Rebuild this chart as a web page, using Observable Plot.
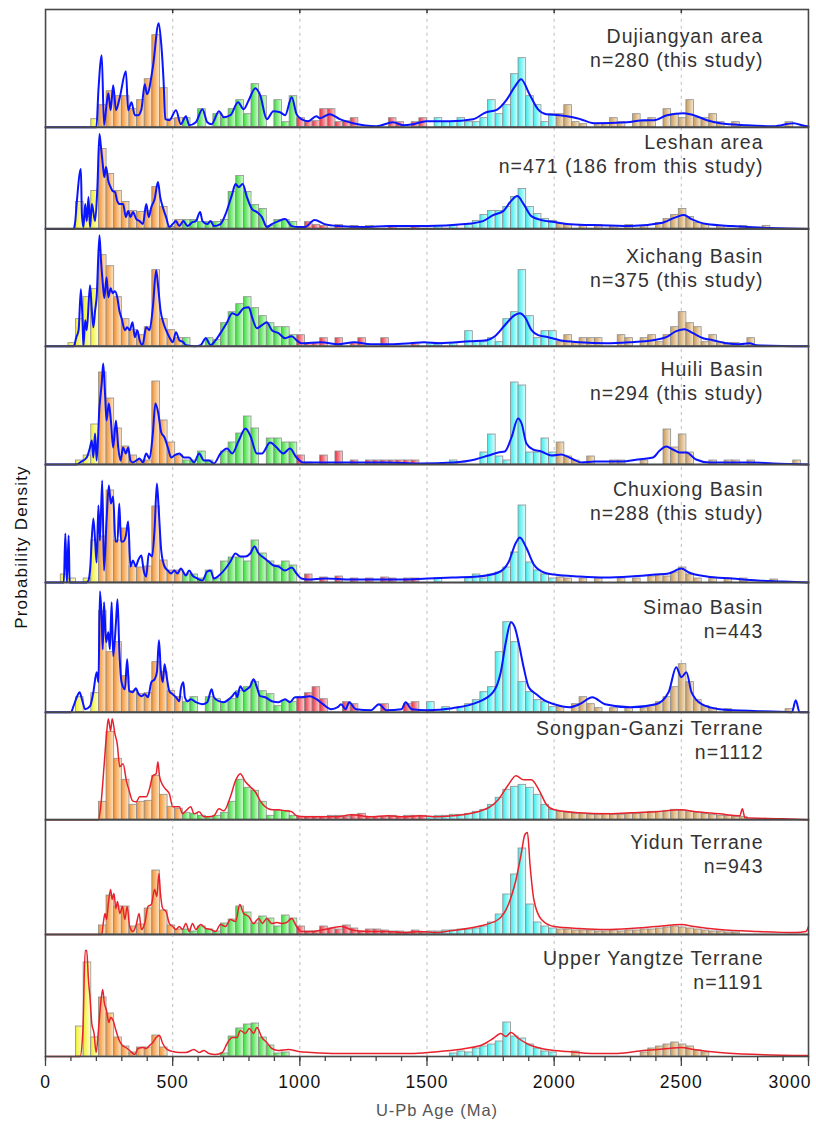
<!DOCTYPE html>
<html><head><meta charset="utf-8">
<script src="https://cdn.jsdelivr.net/npm/d3@7"></script>
<script src="https://cdn.jsdelivr.net/npm/@observablehq/plot@0.6"></script>
<style>
body{margin:0;background:#fff;font-family:"Liberation Sans",Arial,sans-serif;}
#wrap{position:relative;width:816px;height:1123px;overflow:hidden;}
.panel{position:absolute;left:0;}
#ylab{position:absolute;left:22px;top:547px;transform:translate(-50%,-50%) rotate(-90deg);font-size:17px;white-space:nowrap;color:#111;letter-spacing:1.2px;}
#xlab{position:absolute;left:437px;top:1110px;transform:translate(-50%,-50%);font-size:16.5px;color:#555;white-space:nowrap;letter-spacing:1px;}
</style></head><body>
<svg width="0" height="0" style="position:absolute">
<defs>
<linearGradient id="g-yellow" x1="0" x2="1" y1="0" y2="0"><stop offset="0" stop-color="#eeee30"/><stop offset="1" stop-color="#ffffd0"/></linearGradient>
<linearGradient id="g-orange" x1="0" x2="1" y1="0" y2="0"><stop offset="0" stop-color="#f29232"/><stop offset="1" stop-color="#fde6c8"/></linearGradient>
<linearGradient id="g-green" x1="0" x2="1" y1="0" y2="0"><stop offset="0" stop-color="#3ed83e"/><stop offset="1" stop-color="#d2ffd2"/></linearGradient>
<linearGradient id="g-red" x1="0" x2="1" y1="0" y2="0"><stop offset="0" stop-color="#e4303e"/><stop offset="1" stop-color="#fcd2d6"/></linearGradient>
<linearGradient id="g-cyan" x1="0" x2="1" y1="0" y2="0"><stop offset="0" stop-color="#3eeaea"/><stop offset="1" stop-color="#dcffff"/></linearGradient>
<linearGradient id="g-tan" x1="0" x2="1" y1="0" y2="0"><stop offset="0" stop-color="#c89a5c"/><stop offset="1" stop-color="#f6e8cf"/></linearGradient>
</defs></svg>
<div id="wrap"><div id="ylab">Probability Density</div><div id="xlab">U-Pb Age (Ma)</div></div>
<script>
// ---------- data ----------
const names = ["Dujiangyan area","Leshan area","Xichang Basin","Huili Basin","Chuxiong Basin","Simao Basin","Songpan-Ganzi Terrane","Yidun Terrane","Upper Yangtze Terrane"];
const counts = ["n=280 (this study)","n=471 (186 from this study)","n=375 (this study)","n=294 (this study)","n=288 (this study)","n=443","n=1112","n=943","n=1191"];
const binWidth = 30; // Ma
const majorTicks = [0,500,1000,1500,2000,2500,3000];
const minorTicks = d3.range(0, 3001, 100);
const gridAges = [500,1000,1500,2000,2500];

// histogram heights per 30-Ma bin (0-3000 Ma), relative units
const hDujiangyan = [0,0,0,0,0,0,8,22,36,31, 31,18,27,48,92,39,8,9,9,0, 18,0,13,9,18,27,13,43,31,0, 27,5,31,9,6,6,18,18,5,6, 9,0,0,0,0,9,5,0,5,9, 0,9,5,5,9,5,5,9,27,13, 22,53,69,31,22,5,13,13,22,5, 3,0,3,3,9,5,0,13,5,9, 0,18,13,9,27,9,9,13,5,0, 5,0,0,0,0,0,0,5,0,0];
const hLeshan = [0,0,0,0,27,12,38,80,55,38, 27,18,17,18,42,22,2,9,9,9, 7,7,7,9,37,53,37,24,20,3, 9,9,7,2,7,4,3,0,4,0, 3,0,3,0,0,3,0,0,3,0, 0,3,0,3,0,4,8,14,18,18, 22,32,40,22,15,10,8,5,4,0, 3,0,4,0,3,0,4,0,3,0, 6,10,14,20,12,6,4,0,3,0, 0,3,0,0,3,0,0,0,0,0];
const hXichang = [0,0,0,3,27,49,57,91,80,49, 27,16,11,19,76,27,16,8,8,0, 0,8,6,23,34,42,49,38,30,23, 19,19,11,11,3,3,8,0,8,0, 3,8,0,0,8,0,0,0,3,0, 3,3,0,3,0,15,4,4,8,4, 27,34,76,30,8,15,15,4,11,4, 8,8,8,0,0,11,8,0,8,11, 4,11,19,34,23,19,4,11,4,3, 3,0,8,0,0,0,0,0,0,0];
const hHuili = [0,0,0,0,4,9,40,92,66,36, 18,9,4,4,83,44,22,9,4,4, 13,4,0,13,22,31,48,36,0,26, 26,22,22,9,2,0,9,0,13,0, 4,0,4,4,4,4,4,4,4,0, 0,0,0,4,0,0,0,12,30,8, 4,82,79,12,12,26,12,22,8,4, 0,8,0,0,4,4,0,0,4,0, 0,35,17,30,12,0,0,4,0,4, 4,0,4,0,0,0,0,0,4,0];
const hChuxiong = [0,0,8,4,0,4,42,46,92,42, 54,16,15,16,76,22,12,12,8,8, 4,12,4,21,25,25,21,42,29,21, 17,21,17,0,8,0,5,0,6,0, 4,0,4,0,5,4,0,4,4,0, 0,4,0,0,0,4,8,4,8,10, 15,30,77,20,12,8,4,5,4,0, 4,0,4,0,0,4,0,4,0,6, 8,6,10,15,8,4,0,4,0,4, 0,4,0,0,0,3,0,0,0,0];
const hSimao = [0,0,0,0,15,0,19,101,60,70, 36,21,18,19,50,40,21,15,10,15, 0,15,13,10,13,21,25,30,21,18, 6,11,10,15,19,25,13,0,0,10, 8,0,0,0,8,0,0,8,10,0, 10,0,5,0,5,8,12,20,25,60, 90,70,30,20,12,10,5,5,0,8, 15,8,4,0,4,0,4,0,4,6, 10,15,25,48,30,12,6,4,0,3, 0,0,0,0,0,0,0,3,0,0];
const hSongpan = [0,0,0,0,0,0,0,18,88,61, 40,15,18,19,44,25,13,11,7,6, 4,3,4,7,18,40,32,29,18,4, 9,9,4,3,3,3,3,4,4,3, 5,6,3,3,3,4,3,4,4,4, 3,4,4,5,5,6,8,10,15,22, 30,33,35,32,25,15,10,8,7,6, 6,5,5,6,5,5,6,6,7,8, 8,9,10,9,8,7,6,5,4,4, 3,3,0,0,0,0,0,0,0,0];
const hYidun = [0,0,0,0,0,0,0,9,39,28, 28,8,10,26,64,24,9,5,5,3, 8,5,3,11,15,28,22,11,18,16, 8,19,16,8,3,3,8,6,5,9, 6,3,5,5,4,3,3,2,4,2, 3,3,4,4,5,5,6,8,12,20, 40,60,86,30,12,8,6,5,5,4, 4,4,3,3,4,3,4,4,5,5, 6,7,8,7,6,5,4,3,3,2, 2,0,0,0,0,0,0,0,0,0];
const hUpperYangtze = [0,0,0,0,30,94,19,59,43,19, 10,4,9,9,21,9,0,0,0,0, 0,0,0,3,20,28,32,33,19,11, 3,4,0,0,0,0,0,0,0,0, 0,0,0,0,0,0,0,0,0,0, 0,0,0,3,5,4,8,10,12,15, 34,20,18,12,8,5,4,0,0,5, 0,0,0,0,0,0,0,0,4,8, 10,12,14,12,10,6,4,0,0,0, 0,0,0,0,0,0,0,0,0,0];

// probability density curves: [age (Ma), density (relative)]
const dDujiangyan = [[0,0],[200,0],[208,37],[221,72],[230,2],[240,23],[247,34],[256,17],[266,42],[277,17],[292,30],[316,56],[325,17],[338,25],[351,12],[364,12],[377,18],[390,43],[399,33],[422,60],[445,104],[455,83],[464,47],[471,8],[487,7],[513,17],[532,3],[552,11],[565,2],[591,5],[617,18],[636,5],[653,3],[682,16],[701,10],[727,12],[757,25],[779,18],[799,27],[825,39],[844,32],[870,8],[896,16],[922,15],[942,12],[968,30],[987,13],[1006,8],[1032,6],[1065,11],[1079,9],[1118,13],[1157,8],[1209,4],[1301,1],[1366,5],[1406,2],[1445,3],[1497,6],[1589,6],[1681,8],[1733,15],[1772,17],[1812,27],[1844,40],[1870,48],[1903,33],[1936,18],[1969,13],[2021,12],[2073,10],[2104,8],[2156,4],[2287,5],[2353,7],[2392,7],[2444,12],[2510,14],[2549,12],[2601,7],[2653,4],[2758,2],[2863,1],[2941,4],[2994,1],[3000,1]];
const dLeshan = [[0,0],[110,0],[117,8],[123,27],[139,60],[143,15],[149,2],[156,25],[162,8],[169,32],[175,2],[182,25],[195,8],[204,42],[212,95],[218,82],[225,65],[231,52],[238,62],[247,48],[256,42],[264,38],[273,37],[282,28],[292,25],[305,25],[316,12],[325,18],[334,12],[344,17],[357,10],[370,8],[383,5],[396,25],[406,12],[416,22],[429,30],[442,47],[451,32],[461,22],[474,12],[487,2],[500,5],[513,8],[526,3],[542,8],[558,3],[578,7],[591,8],[608,17],[617,8],[636,5],[649,8],[662,3],[688,5],[708,15],[734,35],[747,45],[760,42],[775,45],[792,32],[812,20],[831,17],[851,12],[870,2],[890,5],[916,8],[942,10],[968,3],[994,2],[1019,2],[1058,9],[1097,5],[1150,3],[1250,2],[1350,3],[1500,3],[1650,5],[1720,8],[1760,14],[1800,18],[1830,28],[1855,33],[1880,25],[1910,13],[1950,9],[2000,7],[2050,5],[2150,4],[2300,3],[2420,6],[2480,12],[2510,14],[2540,10],[2600,5],[2700,3],[2850,1],[3000,0]];
const dXichang = [[0,0],[111,0],[121,9],[130,16],[139,57],[145,29],[149,0],[156,26],[162,16],[175,61],[182,36],[188,19],[195,36],[201,49],[212,111],[218,86],[225,63],[231,48],[240,69],[247,49],[256,58],[264,53],[273,55],[282,49],[290,36],[299,28],[312,16],[321,19],[331,16],[342,24],[351,9],[361,16],[370,6],[381,1],[396,19],[409,16],[422,39],[435,76],[443,59],[452,36],[464,23],[474,16],[487,9],[500,4],[513,14],[526,6],[542,4],[552,1],[591,0],[610,1],[630,8],[649,1],[669,6],[695,16],[714,24],[734,33],[753,31],[779,38],[799,39],[812,29],[831,18],[851,21],[870,24],[890,16],[916,13],[942,8],[968,10],[987,6],[1006,3],[1084,4],[1149,2],[1214,4],[1279,2],[1358,2],[1436,3],[1488,4],[1551,3],[1669,5],[1734,6],[1767,10],[1806,21],[1845,31],[1865,33],[1885,29],[1911,16],[1937,11],[1976,9],[2022,6],[2101,4],[2204,3],[2296,4],[2389,6],[2441,9],[2480,15],[2513,17],[2546,13],[2586,8],[2624,6],[2677,3],[2729,2],[2768,3],[2795,1],[3000,0]];
const dHuili = [[0,0],[123,0],[136,2],[162,7],[175,17],[182,24],[188,7],[195,31],[201,4],[212,57],[221,81],[227,101],[234,71],[240,44],[249,61],[257,44],[266,17],[277,44],[286,17],[295,4],[305,17],[316,11],[325,17],[334,4],[344,2],[357,4],[370,6],[383,2],[396,11],[409,6],[422,31],[432,61],[443,52],[455,32],[468,27],[481,17],[494,7],[506,9],[526,11],[545,7],[565,7],[584,2],[604,11],[623,4],[643,4],[662,1],[688,11],[714,16],[734,11],[760,24],[786,36],[805,29],[831,11],[851,11],[883,22],[909,17],[935,11],[961,16],[987,7],[1013,2],[1084,2],[1214,2],[1344,2],[1474,1],[1603,2],[1689,5],[1741,9],[1780,12],[1806,13],[1832,27],[1858,46],[1872,41],[1891,21],[1917,15],[1950,13],[1990,9],[2028,10],[2068,6],[2107,2],[2160,3],[2264,3],[2330,5],[2389,7],[2415,14],[2441,18],[2467,15],[2493,12],[2520,12],[2558,5],[2611,2],[2716,2],[2781,2],[2860,1],[3000,0]];
const dChuxiong = [[0,0],[72,0],[78,49],[84,0],[91,47],[95,0],[160,0],[169,2],[175,12],[188,64],[195,42],[201,20],[208,77],[214,42],[223,102],[230,12],[240,62],[249,97],[257,79],[266,86],[275,41],[283,41],[290,79],[297,41],[305,41],[316,47],[325,61],[334,16],[344,22],[355,16],[364,22],[377,27],[386,12],[396,6],[406,29],[419,26],[429,54],[438,99],[446,69],[455,32],[468,16],[481,12],[494,9],[506,12],[519,9],[532,14],[552,7],[565,12],[578,7],[597,4],[617,2],[636,11],[649,12],[662,4],[682,7],[708,14],[727,21],[747,29],[766,26],[786,26],[805,29],[822,36],[838,29],[857,25],[877,21],[896,17],[916,16],[942,12],[968,15],[987,9],[1006,4],[1032,3],[1100,4],[1200,3],[1300,3],[1400,3],[1500,4],[1600,5],[1700,6],[1780,10],[1820,20],[1850,40],[1865,45],[1890,35],[1920,18],[1960,10],[2000,8],[2100,6],[2200,5],[2300,6],[2400,8],[2450,9],[2500,14],[2530,10],[2600,6],[2700,4],[2800,2],[2900,1],[3000,0]];
const dSimao = [[0,0],[100,0],[110,6],[123,15],[134,20],[143,13],[156,3],[175,6],[188,20],[201,40],[208,30],[214,121],[221,93],[225,63],[230,110],[238,70],[247,80],[253,63],[260,110],[266,56],[277,90],[283,113],[290,63],[299,30],[312,23],[321,53],[329,21],[342,20],[355,24],[366,18],[377,16],[390,18],[403,15],[416,30],[429,33],[438,40],[446,72],[453,43],[461,30],[468,48],[476,36],[487,21],[500,18],[513,15],[526,11],[532,23],[542,30],[548,15],[558,11],[571,13],[591,10],[617,8],[636,10],[653,23],[662,15],[682,11],[701,10],[721,13],[734,16],[747,20],[753,15],[766,26],[779,21],[792,23],[805,26],[818,33],[831,25],[844,16],[864,15],[890,11],[916,10],[942,13],[961,10],[981,15],[1006,15],[1039,16],[1065,13],[1091,8],[1123,3],[1149,5],[1162,8],[1180,3],[1194,10],[1220,3],[1280,2],[1311,8],[1340,2],[1400,3],[1416,10],[1440,3],[1500,2],[1600,4],[1700,10],[1760,20],[1790,40],[1810,70],[1830,90],[1845,85],[1860,70],[1880,45],[1900,25],[1930,18],[1960,12],[2000,8],[2060,5],[2100,8],[2150,15],[2200,8],[2300,5],[2400,8],[2450,20],[2480,45],[2500,35],[2520,40],[2540,20],[2580,8],[2650,3],[2800,1],[2935,0],[2950,12],[2965,0],[3000,0]];
const dSongpan = [[0,0],[208,0],[217,13],[230,53],[240,86],[247,101],[256,89],[262,101],[273,86],[282,76],[292,53],[305,56],[318,39],[329,29],[342,19],[357,18],[370,23],[383,23],[396,23],[409,31],[422,44],[435,46],[442,58],[448,44],[458,36],[471,31],[487,26],[500,13],[513,13],[526,13],[539,6],[552,9],[571,13],[584,6],[604,8],[623,3],[643,3],[662,4],[682,11],[701,9],[727,23],[747,39],[766,46],[786,38],[805,33],[825,28],[844,19],[864,13],[890,10],[916,10],[942,9],[968,8],[987,4],[1019,3],[1084,3],[1149,3],[1201,5],[1279,3],[1344,4],[1409,3],[1474,4],[1539,3],[1600,4],[1700,8],[1780,20],[1820,35],[1850,44],[1880,40],[1910,40],[1940,30],[1970,15],[2000,10],[2100,7],[2200,6],[2300,7],[2400,8],[2500,10],[2560,8],[2650,6],[2730,4],[2740,11],[2750,2],[2900,1],[3000,0]];
const dYidun = [[0,0],[221,0],[227,11],[234,21],[240,15],[247,31],[256,45],[262,35],[269,41],[277,26],[283,33],[292,21],[303,28],[312,15],[321,28],[331,8],[344,3],[357,10],[368,21],[377,5],[390,11],[403,28],[416,30],[429,45],[438,38],[446,61],[452,41],[461,26],[474,23],[487,11],[500,8],[513,5],[526,8],[539,5],[552,11],[565,3],[578,11],[591,5],[610,10],[630,6],[649,5],[669,3],[688,10],[708,8],[727,15],[747,13],[764,30],[779,21],[799,18],[818,11],[838,16],[853,11],[870,16],[890,11],[909,12],[929,11],[948,12],[968,16],[987,8],[1006,3],[1045,3],[1097,5],[1162,8],[1214,4],[1279,3],[1344,3],[1409,2],[1474,3],[1539,2],[1600,4],[1700,8],[1780,15],[1820,30],[1850,55],[1870,80],[1885,100],[1895,102],[1905,70],[1920,35],[1950,15],[2000,8],[2100,6],[2200,5],[2300,6],[2400,8],[2500,10],[2550,8],[2650,5],[2800,3],[2950,2],[2990,3],[3000,8]];
const dUpperYangtze = [[0,0],[136,0],[147,26],[156,106],[162,106],[169,76],[175,59],[182,33],[191,23],[199,4],[208,26],[217,53],[225,67],[231,54],[240,46],[249,34],[256,39],[266,36],[277,26],[290,16],[303,11],[316,9],[331,6],[351,2],[364,8],[383,9],[396,8],[409,11],[422,14],[435,19],[448,21],[461,13],[474,8],[487,6],[500,5],[526,4],[552,4],[584,7],[604,4],[623,6],[643,3],[669,2],[695,4],[714,13],[734,19],[753,19],[766,26],[786,23],[801,28],[818,23],[831,29],[851,19],[870,14],[890,8],[916,6],[955,7],[994,5],[1045,4],[1150,3],[1300,3],[1450,3],[1550,5],[1650,8],[1720,12],[1760,18],[1790,23],[1810,20],[1830,24],[1860,18],[1900,12],[1950,8],[2000,6],[2050,5],[2150,3],[2250,3],[2350,6],[2450,8],[2500,9],[2550,7],[2650,4],[2800,2],[3000,1]];

const histograms = [hDujiangyan,hLeshan,hXichang,hHuili,hChuxiong,hSimao,hSongpan,hYidun,hUpperYangtze];
const densities = [dDujiangyan,dLeshan,dXichang,dHuili,dChuxiong,dSimao,dSongpan,dYidun,dUpperYangtze];

// ---------- layout & style ----------
const panelTop = [9,126.7,228.3,346,464,582,711.7,819,934];
const panelHeight = [117.7,101.6,117.7,118,118,129.7,107.3,115,122];
const labelDy = [16,4,17,12,14,14,5,12,13];
const lineColors = ["#0a14ff","#0a14ff","#0a14ff","#0a14ff","#0a14ff","#0a14ff","#e8222c","#e8222c","#e8222c"];
const lineWidths = [2,2,2,2,2,2,1.5,1.5,1.5];
const groups = ["yellow","orange","green","red","cyan","tan"];
function ageGroup(a){ return a<200?"yellow":a<540?"orange":a<1000?"green":a<1500?"red":a<2000?"cyan":"tan"; }

const wrap = document.getElementById("wrap");
histograms.forEach((hist, i) => {
  const H = panelHeight[i];
  const last = i === histograms.length - 1;
  const mb = last ? 48 : 0;
  const bars = hist.map((v,k)=>({x1:k*binWidth, x2:(k+1)*binWidth, y:v, g:ageGroup((k+0.5)*binWidth)})).filter(d=>d.y>0);
  const marks = [
    Plot.ruleX(gridAges, {x:d=>d, y1:0, y2:H, stroke:"#c8c8c8", strokeWidth:1.2, strokeDasharray:"3,4"}),
    ...groups.map(g => Plot.rectY(bars.filter(d=>d.g===g), {x1:"x1", x2:"x2", y:"y", fill:`url(#g-${g})`, stroke:"#8e8e8e", strokeWidth:0.8})),
    Plot.line(densities[i], {x:d=>d[0], y:d=>d[1], stroke:lineColors[i], strokeWidth:lineWidths[i], curve:"monotone-x"}),
    Plot.text([names[i] + "\n" + counts[i]], {frameAnchor:"top-right", dx:-45, dy:labelDy[i], fontSize:19.5, fill:"#333", lineHeight:1.24, textAnchor:"end"}),
    Plot.frame({stroke:"#484848", strokeWidth:1.6})
  ];
  if (i === 0) marks.push(Plot.ruleX(gridAges, {x:d=>d, y1:H, y2:H-4, stroke:"#333", strokeWidth:1.5}));
  if (last) {
    marks.push(
      Plot.ruleX(minorTicks, {x:d=>d, y1:0, y2:-5, stroke:"#444", strokeWidth:1.3}),
      Plot.ruleX(majorTicks, {x:d=>d, y1:0, y2:-10, stroke:"#444", strokeWidth:1.3}),
      Plot.text(majorTicks.slice(0,-1), {x:d=>d, y:-19, text:d=>String(d), lineAnchor:"top", fontSize:17.5, fill:"#111"}),
      Plot.text(majorTicks.slice(-1), {x:d=>d, y:-19, text:d=>String(d), lineAnchor:"top", textAnchor:"end", dx:3, fontSize:17.5, fill:"#111"})
    );
  }
  const svg = Plot.plot({
    width:816, height:H+mb, marginLeft:45, marginRight:8, marginTop:0, marginBottom:mb,
    x:{domain:[0,3000], axis:null},
    y:{domain:[0,H], axis:null},
    style:{fontFamily:"'Liberation Sans', Arial, sans-serif", background:"transparent", overflow:"visible", letterSpacing:"1px"},
    marks
  });
  svg.classList.add("panel");
  svg.style.position = "absolute";
  svg.style.top = panelTop[i] + "px";
  svg.style.left = "0px";
  wrap.appendChild(svg);
});
</script>
</body></html>
